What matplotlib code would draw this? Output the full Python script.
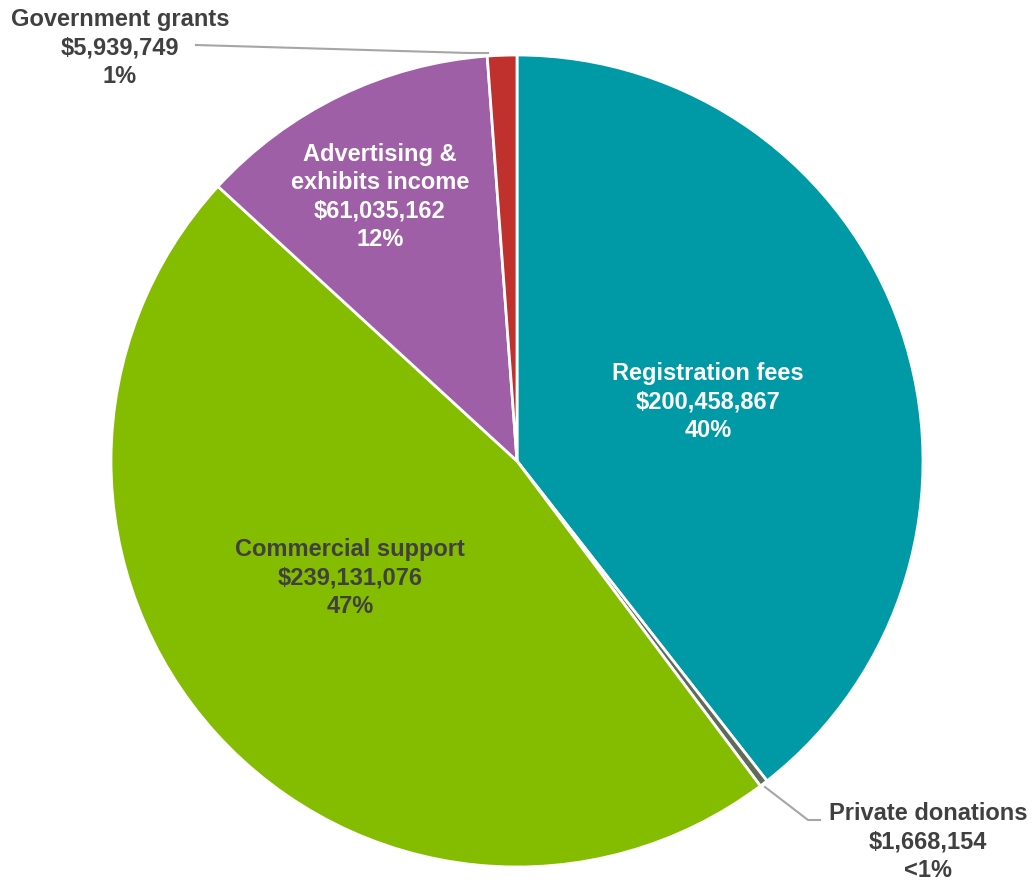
import matplotlib
matplotlib.use("Agg")
import matplotlib.pyplot as plt

categories = ["Registration fees", "Private donations", "Commercial support",
              "Advertising &\nexhibits income", "Government grants"]
values = [200458867, 1668154, 239131076, 61035162, 5939749]
pct_labels = ["40%", "<1%", "47%", "12%", "1%"]
colors = ["#0099A6", "#5E6A5A", "#84BC00", "#9E5FA6", "#C0302C"]
text_colors = ["white", "#404040", "#404040", "white", "#404040"]

plt.rcParams['font.family'] = ['Liberation Sans', 'DejaVu Sans']

W, H = 1036, 890
fig = plt.figure(figsize=(W / 100, H / 100), dpi=100)
ax = fig.add_axes([0, 0, 1, 1])

cx, cy, r = 517, H - 461, 406
ax.pie(values, colors=colors, startangle=90, counterclock=False,
       center=(cx, cy), radius=r, frame=True,
       wedgeprops=dict(edgecolor='white', linewidth=2))
ax.set_xlim(0, W)
ax.set_ylim(0, H)
ax.set_aspect('equal')
ax.axis('off')

# label positions in pixel coordinates (x, y from top)
label_pos = [(708, 402), (928, 842), (350, 578), (380, 197), (120, 48)]
fs = 17
for cat, val, pct, (lx, ly), tc in zip(categories, values, pct_labels, label_pos, text_colors):
    txt = f"{cat}\n${val:,}\n{pct}"
    ax.text(lx, H - ly, txt, ha='center', va='center', fontsize=fs,
            fontweight='bold', color=tc, linespacing=1.28)

# leader lines
ax.plot([196, 469, 488], [H - 45, H - 53, H - 53], color='#A6A6A6', lw=1.5)
ax.plot([765, 808, 820], [H - 787, H - 820, H - 820], color='#A6A6A6', lw=1.5)

fig.savefig("out.png", dpi=100)
